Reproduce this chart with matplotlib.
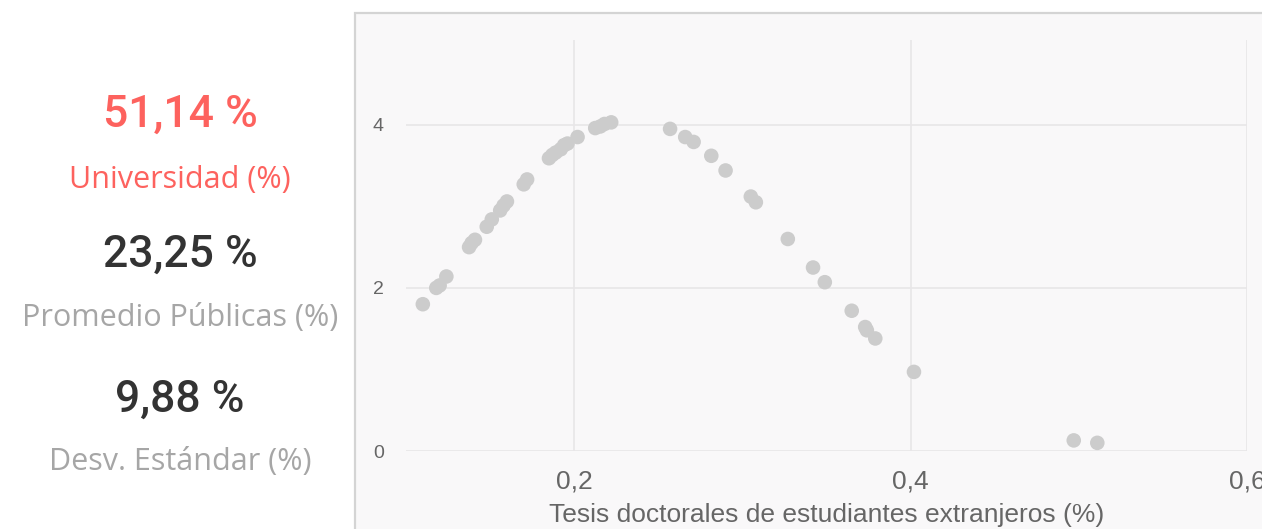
import matplotlib
matplotlib.use("Agg")
import matplotlib.pyplot as plt
from matplotlib.patches import Rectangle

# scatter data
tesis_extranjeros = [0.110, 0.118, 0.120, 0.124, 0.1375, 0.139, 0.141, 0.148, 0.151, 0.156,
                     0.158, 0.160, 0.170, 0.172, 0.185, 0.187, 0.189, 0.192, 0.194, 0.196,
                     0.202, 0.2125, 0.2155, 0.218, 0.222, 0.257, 0.266, 0.271, 0.2815, 0.290,
                     0.305, 0.308, 0.327, 0.342, 0.349, 0.365, 0.373, 0.374, 0.379, 0.402,
                     0.497, 0.511]
valores_y = [1.80, 2.00, 2.03, 2.14, 2.50, 2.55, 2.59, 2.75, 2.84, 2.95,
             3.01, 3.06, 3.27, 3.33, 3.59, 3.63, 3.66, 3.70, 3.75, 3.77,
             3.85, 3.96, 3.98, 4.01, 4.03, 3.95, 3.85, 3.79, 3.62, 3.44,
             3.12, 3.05, 2.60, 2.25, 2.07, 1.72, 1.52, 1.48, 1.38, 0.97,
             0.13, 0.10]

x_ticks = [0.2, 0.4, 0.6]
x_tick_labels = ["0,2", "0,4", "0,6"]
y_ticks = [0, 2, 4]
y_tick_labels = ["0", "2", "4"]

kpi_values = ["51,14 %", "23,25 %", "9,88 %"]
kpi_labels = ["Universidad (%)", "Promedio Públicas (%)", "Desv. Estándar (%)"]
kpi_value_colors = ["#fd625e", "#333333", "#333333"]
kpi_label_colors = ["#fd625e", "#a6a6a6", "#a6a6a6"]

W, H = 1262, 529
fig = plt.figure(figsize=(W / 100, H / 100), dpi=100)
fig.patch.set_facecolor("white")

# panel background, runs off the right and bottom edges
panel = Rectangle((355 / W, -0.1), 1, (H - 13) / H + 0.1, transform=fig.transFigure,
                  facecolor="#f9f8f9", edgecolor="#d4d4d4", linewidth=1.6, zorder=-10)
fig.patches.append(panel)

ax = fig.add_axes([406 / W, (H - 451) / H, (1247 - 406) / W, (451 - 40) / H])
ax.set_facecolor("none")
ax.scatter(tesis_extranjeros, valores_y, s=110, color="#cccccc", edgecolors="none",
           zorder=3, clip_on=False)
ax.set_xlim(0.1, 0.6)
ax.set_ylim(0, 5.04)
ax.set_xticks(x_ticks)
ax.set_xticklabels(x_tick_labels)
ax.set_yticks(y_ticks)
ax.set_yticklabels(y_tick_labels)
for s in ax.spines.values():
    s.set_visible(False)
ax.grid(True, color="#e8e6e8", linewidth=1.2)
ax.set_axisbelow(True)
ax.tick_params(axis="both", length=0, colors="#666666")
ax.tick_params(axis="x", labelsize=19, pad=13)
ax.tick_params(axis="y", labelsize=14, pad=16)
for lab in ax.get_xticklabels() + ax.get_yticklabels():
    lab.set_family("Liberation Sans")
ax.set_xlabel("Tesis doctorales de estudiantes extranjeros (%)", fontsize=19,
              color="#666666", family="Liberation Sans", labelpad=7)

# KPI card on the left
value_y = [115, 255, 400]
label_y = [180, 318, 462]
for val, lab, vc, lc, vy, ly in zip(kpi_values, kpi_labels, kpi_value_colors,
                                    kpi_label_colors, value_y, label_y):
    fig.text(180 / W, 1 - vy / H, val, ha="center", va="center", fontsize=32,
             color=vc, family="Roboto", fontweight="medium")
    fig.text(180 / W, 1 - ly / H, lab, ha="center", va="center", fontsize=22,
             color=lc, family="Open Sans")

fig.savefig("out.png", dpi=100)
